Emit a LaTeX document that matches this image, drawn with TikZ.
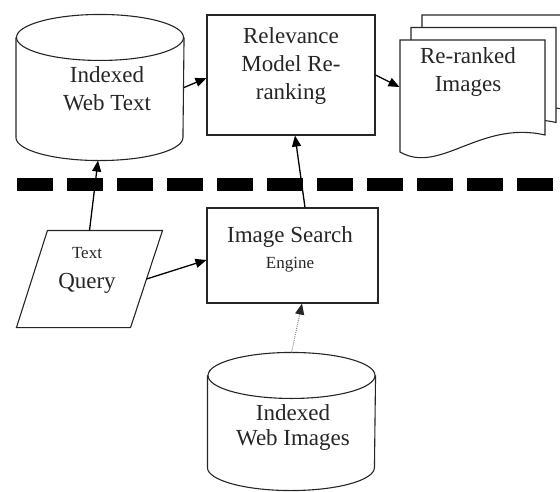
\documentclass[tikz,border=0pt]{standalone}
\usepackage{fontspec}
\setmainfont{Liberation Serif}
\usetikzlibrary{arrows.meta,calc}

\begin{document}
\begin{tikzpicture}[x=1pt,y=-1pt,
    line width=1.1pt,
    txt/.style={align=center,text=black!85,font=\fontsize{23}{28}\selectfont,inner sep=0pt},
    frame/.style={draw=black!85,fill=white,inner sep=0pt},
    area/.style={minimum width=167pt,inner sep=0pt},
    link/.style={draw=black,line width=1.3pt,-{Triangle[length=11pt,width=9pt]}}
  ]
    \useasboundingbox (0,0) rectangle (560,491);
    \clip (0,0) rectangle (560,491);

    % cylinders
    \node[area,minimum height=145pt] (webtext) at (100,87.5) {};
    \node[area,minimum height=137pt] (webimg) at (291.5,421.5) {};
    \foreach \n in {webtext,webimg} {
      \draw[draw=black!85,fill=white] ($(\n.north west)+(0,23)$) -- ($(\n.south west)+(0,-23)$)
        arc[start angle=180,end angle=360,x radius=83.5pt,y radius=23pt] -- ($(\n.north east)+(0,23)$);
      \draw[draw=black!85] ($(\n.north)+(0,23)$) ellipse[x radius=83.5pt,y radius=23pt];
    }
    \node[txt] (webtext-t) at (107,89) {Indexed\\Web Text};
    \node[txt] (webimg-t) at (293,427) {Indexed\\[-3pt]Web Images};

    % boxes
    \node[frame,minimum width=168pt,minimum height=120pt] (rerank) at (291,75) {};
    \node[txt] (rerank-t) at (291,66) {Relevance\\Model Re-\\ranking};
    \node[frame,minimum width=171pt,minimum height=95pt] (engine) at (292.5,255.5) {};
    \node[txt] (engine-t) at (290,249) {Image Search\\[-2pt]{\fontsize{17}{20}\selectfont Engine}};

    % query
    \node[minimum width=145pt,minimum height=96pt,inner sep=0pt] (query) at (89.5,279) {};
    \draw[draw=black!85] ($(query.north west)+(31,0)$) -- (query.north east)
      -- ($(query.south east)+(-32,0)$) -- (query.south west) -- cycle;
    \node[txt] (query-t) at (87,270) {{\fontsize{17}{20}\selectfont Text}\\[2pt]Query};

    % stack of pages
    \foreach \d in {2,1,0}
      \draw[draw=black!85,fill=white,shift={(11*\d,-12.5*\d)}] (400,152) -- (400,40) -- (545,40) -- (545,135)
        .. controls (480,120) and (440,175) .. (400,152) -- cycle;
    \node[minimum width=145pt,minimum height=112pt,inner sep=0pt] (ranked) at (472.5,96) {};
    \node[txt] (ranked-t) at (468,72) {Re-ranked\\Images};

    % separator
    \draw[line width=13pt,dash pattern=on 36pt off 14pt] (17,184) -- (553,184);

    % connectors
    \draw[link] (webtext.east) -- ([yshift=-3pt]rerank.west);
    \draw[link] (rerank.east) -- ([yshift=9pt]ranked.west);
    \draw[link] (query.north) -- ([xshift=-2pt]webtext.south);
    \draw[link] ([xshift=-16pt]query.east) -- ([yshift=-4.5pt]engine.west);
    \draw[link] ([xshift=12.5pt]engine.north) -- ([xshift=4pt]rerank.south);
    \draw[draw=black!45,line width=1pt,densely dotted,-{Triangle[length=11pt,width=9pt,color=black!85]}]
      (webimg.north) -- ([xshift=9.5pt]engine.south);

  \end{tikzpicture}
\end{document}
